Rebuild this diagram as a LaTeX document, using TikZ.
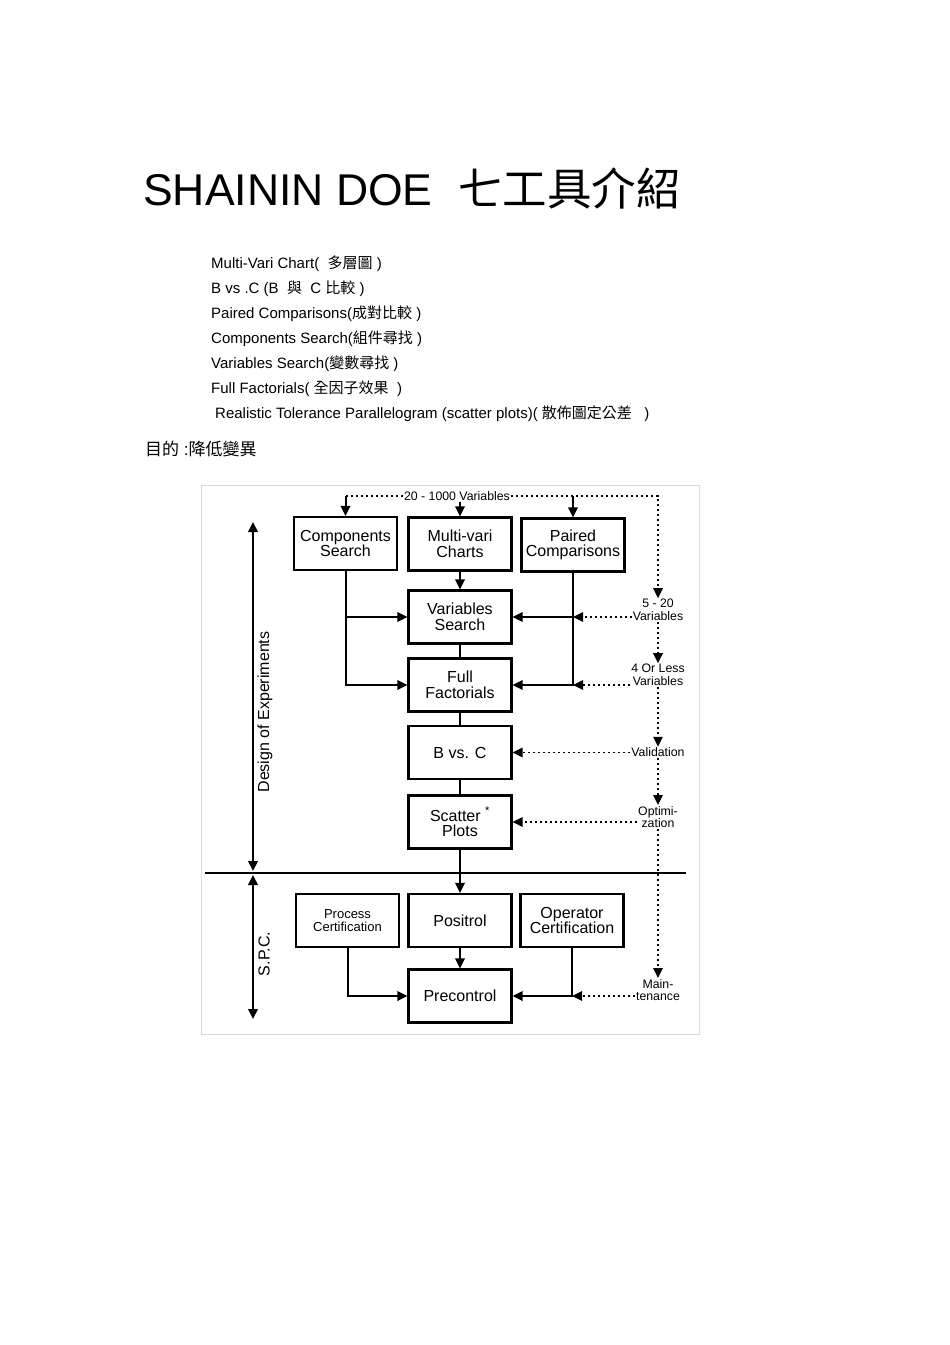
\documentclass[tikz,border=0pt]{standalone}
\usepackage{fontspec}
\setmainfont{Liberation Sans}
\newfontfamily\cjk{Noto Sans CJK TC}
\usetikzlibrary{positioning,arrows.meta}

\begin{document}
\begin{tikzpicture}[
    x=1pt, y=-1pt,
    item/.style={anchor=base west, inner sep=0pt, font=\fontsize{15}{15}\selectfont},
    box/.style={draw, line width=2.2pt, minimum width=103pt, minimum height=53pt, inner sep=0pt, align=center, font=\fontsize{16}{15.5}\selectfont},
    note/.style={inner sep=1pt, align=center, font=\fontsize{12.3}{12.5}\selectfont},
    link/.style={line width=2pt},
    arr/.style={link, -{Triangle[length=10pt,width=9.5pt]}},
    span/.style={link, {Triangle[length=10pt,width=9.5pt]}-{Triangle[length=10pt,width=9.5pt]}},
    dots/.style={line width=1.5pt, dash pattern=on 2pt off 3pt},
    dotarr/.style={dots, -{Triangle[length=10pt,width=9.5pt]}},
]
\useasboundingbox (0,0) rectangle (950,1345);

% Title
\node[anchor=base west, inner sep=0pt, font=\fontsize{44.5}{44.5}\selectfont] (title) at (143,205) {SHAININ DOE\hspace{26pt}{\cjk 七工具介紹}};

% Tool list
\node[item] (t1) at (211,268) {Multi-Vari Chart(\ \ {\cjk 多層圖} )};
\node[item] (t2) at (211,293) {B vs .C (B \ {\cjk 與} \ C {\cjk 比較} )};
\node[item] (t3) at (211,318) {Paired Comparisons({\cjk 成對比較} )};
\node[item] (t4) at (211,343) {Components Search({\cjk 組件尋找} )};
\node[item] (t5) at (211,368) {Variables Search({\cjk 變數尋找} )};
\node[item] (t6) at (211,393) {Full Factorials( {\cjk 全因子效果} \ )};
\node[item] (t7) at (215,418) {Realistic Tolerance Parallelogram (scatter plots)(\ {\cjk 散佈圖定公差} \ \ )};
\node[anchor=base west, inner sep=0pt, font=\fontsize{17}{17}\selectfont] (goal) at (145,455) {{\cjk 目的} :{\cjk 降低變異}};

% Frame of the chart
\draw[black!15, line width=0.8pt] (201,485) rectangle (699,1034);

% Boxes (DOE)
\node[box] (comp) at (345.5,543.5) {Components\\Search};
\node[box] (multi) at (460,544) {Multi-vari\\Charts};
\node[box] (paired) at (573,545) {Paired\\Comparisons};
\node[box] (vs) at (460,617) {Variables\\Search};
\node[box] (full) at (460,685) {Full\\Factorials};
\node[box] (bvc) at (460,752.5) {B vs. C};
\node[box] (scatter) at (460,822) {Scatter \textsuperscript{*}\\Plots};

% Boxes (SPC)
\node[box, font=\fontsize{13}{13}\selectfont] (proc) at (347.5,920.5) {Process\\Certification};
\node[box] (positrol) at (460,920.5) {Positrol};
\node[box] (oper) at (572,920.5) {Operator\\Certification};
\node[box] (precon) at (460,996) {Precontrol};

% Right side notes
\node[note] (ltop) at (457,496) {20 - 1000 Variables};
\node[note] (l520) at (658,610) {5 - 20\\Variables};
\node[note] (l4) at (658,675) {4 Or Less\\Variables};
\node[note] (lval) at (658,752.5) {Validation};
\node[note] (lopt) at (658,817) {Optimi-\\zation};
\node[note] (lmain) at (658,990) {Main-\\tenance};

% Left side ranges
\coordinate (doeT) at (253,522);
\coordinate (doeB) at (253,871);
\coordinate (spcT) at (253,875);
\coordinate (spcB) at (253,1019);
\draw[span] (doeT) -- (doeB);
\draw[span] (spcT) -- (spcB);
\node[rotate=90, inner sep=0pt, font=\fontsize{16}{16}\selectfont] (doelbl) at (265,712) {Design of Experiments};
\node[rotate=90, inner sep=0pt, font=\fontsize{16}{16}\selectfont] (spclbl) at (264,954) {S.P.C.};

% Separator
\coordinate (sepL) at (205,873);
\coordinate (sepR) at (686,873);
\draw[link] (sepL) -- (sepR);

% Variable count path
\draw[dots] (ltop.west) -- (comp.north |- ltop.west);
\draw[dotarr] (ltop.east) -| (l520.north);
\draw[dotarr] (l520.south) -- (l4.north);
\draw[dotarr] (l4.south) -- (lval.north);
\draw[dotarr] (lval.south) -- (lopt.north);
\draw[dotarr] (lopt.south) -- (lmain.north);
\draw[arr] (comp.north |- ltop.west) -- (comp.north);
\draw[arr] (multi.north |- ltop.south) -- (multi.north);
\draw[arr] (paired.north |- ltop.east) -- (paired.north);

% Connections
\draw[arr] (multi) -- (vs);
\draw[arr] (comp.south) |- (full.west);
\draw[arr] (comp.south |- vs.west) -- (vs.west);
\draw[arr] (paired.south) |- (full.east);
\draw[arr] (paired.south |- vs.east) -- (vs.east);
\draw[link] (vs) -- (full);
\draw[link] (full) -- (bvc);
\draw[link] (bvc) -- (scatter);
\draw[arr] (scatter) -- (positrol);
\draw[arr] (positrol) -- (precon);
\draw[arr] (proc.south) |- (precon.west);
\draw[arr] (oper.south) |- (precon.east);

% Dotted inputs
\draw[dotarr] (l520.west |- vs.east) -- (paired.south |- vs.east);
\draw[dotarr] (l4.west |- full.east) -- (paired.south |- full.east);
\draw[dotarr] (lval.west) -- (bvc.east);
\draw[dotarr] (lopt.west |- scatter.east) -- (scatter.east);
\draw[dotarr] (lmain.west |- precon.east) -- (oper.south |- precon.east);

\end{tikzpicture}
\end{document}
